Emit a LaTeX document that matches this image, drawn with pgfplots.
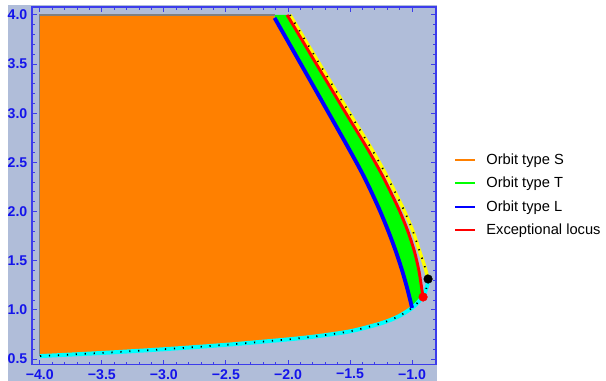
\documentclass[border=0pt]{standalone}
\usepackage{fontspec}
\setmainfont{Liberation Sans}
\usepackage{pgfplots}
\pgfplotsset{compat=1.18}
\usepackage{pgfplotstable}
\definecolor{bgc}{RGB}{176,189,217}
\definecolor{orS}{RGB}{255,128,0}
\definecolor{grT}{RGB}{0,255,0}
\definecolor{blL}{RGB}{0,0,255}
\definecolor{rdE}{RGB}{255,0,0}
\definecolor{ylw}{RGB}{255,255,0}
\definecolor{cyn}{RGB}{0,255,255}
\definecolor{frameblue}{RGB}{60,60,235}
\definecolor{labblue}{RGB}{20,20,235}

% Orbit type L boundary (blue)
\pgfplotstableread{
x y
-2.108 3.970
-1.896 3.500
-1.671 3.000
-1.513 2.647
-1.406 2.400
-1.328 2.200
-1.256 2.000
-1.191 1.800
-1.132 1.600
-1.080 1.400
-1.035 1.200
-1.000 1.020
}\blueL

% Exceptional locus (red)
\pgfplotstableread{
x y
-2.007 4.000
-1.771 3.500
-1.533 3.000
-1.363 2.647
-1.253 2.400
-1.173 2.200
-1.098 2.000
-1.034 1.800
-0.982 1.600
-0.945 1.400
-0.920 1.200
-0.911 1.131
}\redE

% outer boundary (yellow)
\pgfplotstableread{
x y
-1.984 4.000
-1.745 3.500
-1.503 3.000
-1.331 2.647
-1.220 2.400
-1.138 2.200
-1.060 2.000
-0.993 1.800
-0.940 1.600
-0.900 1.450
-0.871 1.314
}\yelB

% lower boundary (cyan)
\pgfplotstableread{
x y
-0.871 1.314
-0.875 1.260
-0.890 1.200
-0.910 1.140
-0.950 1.080
-1.000 1.020
-1.100 0.940
-1.200 0.885
-1.300 0.845
-1.500 0.782
-1.750 0.735
-2.000 0.700
-2.500 0.645
-3.000 0.600
-3.500 0.562
-4.000 0.530
}\cyaB

\begin{document}
\begin{tikzpicture}
\path[use as bounding box] (0,0) rectangle (454.5pt,285.75pt);
\fill[bgc] (6pt,0pt) rectangle (327.75pt,282pt);
\begin{axis}[
  at={(24pt,12.375pt)}, anchor=south west,
  scale only axis, width=303pt, height=268.125pt,
  xmin=-4.063, xmax=-0.807, ymin=0.4446, ymax=4.081,
  axis background/.style={fill=bgc},
  axis line style={frameblue, line width=1.1pt},
  every tick/.style={frameblue, line width=0.7pt},
  major tick length=3.5pt, minor tick length=2pt,
  xtick={-4,-3.5,-3,-2.5,-2,-1.5,-1},
  xticklabels={−4.0,−3.5,−3.0,−2.5,−2.0,−1.5,−1.0},
  ytick={0.5,1,1.5,2,2.5,3,3.5,4},
  yticklabels={0.5,1.0,1.5,2.0,2.5,3.0,3.5,4.0},
  minor x tick num=4, minor y tick num=4,
  ticklabel style={font=\bfseries\fontsize{10.6}{11}\selectfont, text=labblue},
  legend style={draw=none, fill=none, at={(1.045,0.474)}, anchor=west,
    font=\fontsize{11}{13}\selectfont, row sep=4.2pt, inner sep=0pt},
  legend cell align=left,
  legend image code/.code={\draw[#1, line width=1.5pt] (0pt,0pt) -- (15pt,0pt); \path (21pt,0pt);},
]
% orange region (orbit type S)
\addplot[fill=orS, draw=none, forget plot] coordinates {
(-4.000,4.000) (-2.108,4.000)
(-2.108,3.970) (-1.896,3.500) (-1.671,3.000) (-1.513,2.647) (-1.406,2.400)
(-1.328,2.200) (-1.256,2.000) (-1.191,1.800) (-1.132,1.600) (-1.080,1.400)
(-1.035,1.200) (-1.000,1.020)
(-1.100,0.940) (-1.200,0.885) (-1.300,0.845) (-1.500,0.782) (-1.750,0.735)
(-2.000,0.700) (-2.500,0.645) (-3.000,0.600) (-3.500,0.562) (-4.000,0.530)
} -- cycle;
% green region (orbit type T)
\addplot[fill=grT, draw=none, forget plot] coordinates {
(-2.108,4.000) (-2.007,4.000) (-1.771,3.500) (-1.533,3.000) (-1.363,2.647)
(-1.253,2.400) (-1.173,2.200) (-1.098,2.000) (-1.034,1.800) (-0.982,1.600)
(-0.945,1.400) (-0.920,1.200) (-0.911,1.131)
(-0.950,1.080) (-1.000,1.020)
(-1.035,1.200) (-1.080,1.400) (-1.132,1.600) (-1.191,1.800) (-1.256,2.000)
(-1.328,2.200) (-1.406,2.400) (-1.513,2.647) (-1.671,3.000) (-1.896,3.500)
(-2.108,3.970)
} -- cycle;
% gray edges of region S
\addplot[gray, line width=1pt, forget plot] coordinates {(-4.000,0.530) (-4.000,4.000) (-2.108,4.000)};
% cyan lower boundary
\addplot[cyn, line width=3pt, smooth, forget plot] table[x=x,y=y]{\cyaB};
\addplot[black, line width=1.3pt, smooth, dash pattern=on 0.9pt off 5.8pt, forget plot] table[x=x,y=y]{\cyaB};
% yellow outer boundary
\addplot[ylw, line width=2.6pt, smooth, forget plot] table[x=x,y=y]{\yelB};
\addplot[black, line width=1.3pt, smooth, dash pattern=on 0.9pt off 5.8pt, forget plot] table[x=x,y=y]{\yelB};
% red exceptional locus
\addplot[rdE, line width=2.2pt, smooth, forget plot] table[x=x,y=y]{\redE};
% blue orbit type L
\addplot[blL, line width=2.9pt, smooth, forget plot] table[x=x,y=y]{\blueL};
% points
\addplot[only marks, mark=*, mark size=3.2pt, black, forget plot] coordinates {(-0.871,1.314)};
\addplot[only marks, mark=*, mark size=3.2pt, rdE, forget plot] coordinates {(-0.911,1.131)};
% legend
\addlegendimage{orS}\addlegendentry{Orbit type S}
\addlegendimage{grT}\addlegendentry{Orbit type T}
\addlegendimage{blL}\addlegendentry{Orbit type L}
\addlegendimage{rdE}\addlegendentry{Exceptional locus}
\end{axis}
\end{tikzpicture}
\end{document}
